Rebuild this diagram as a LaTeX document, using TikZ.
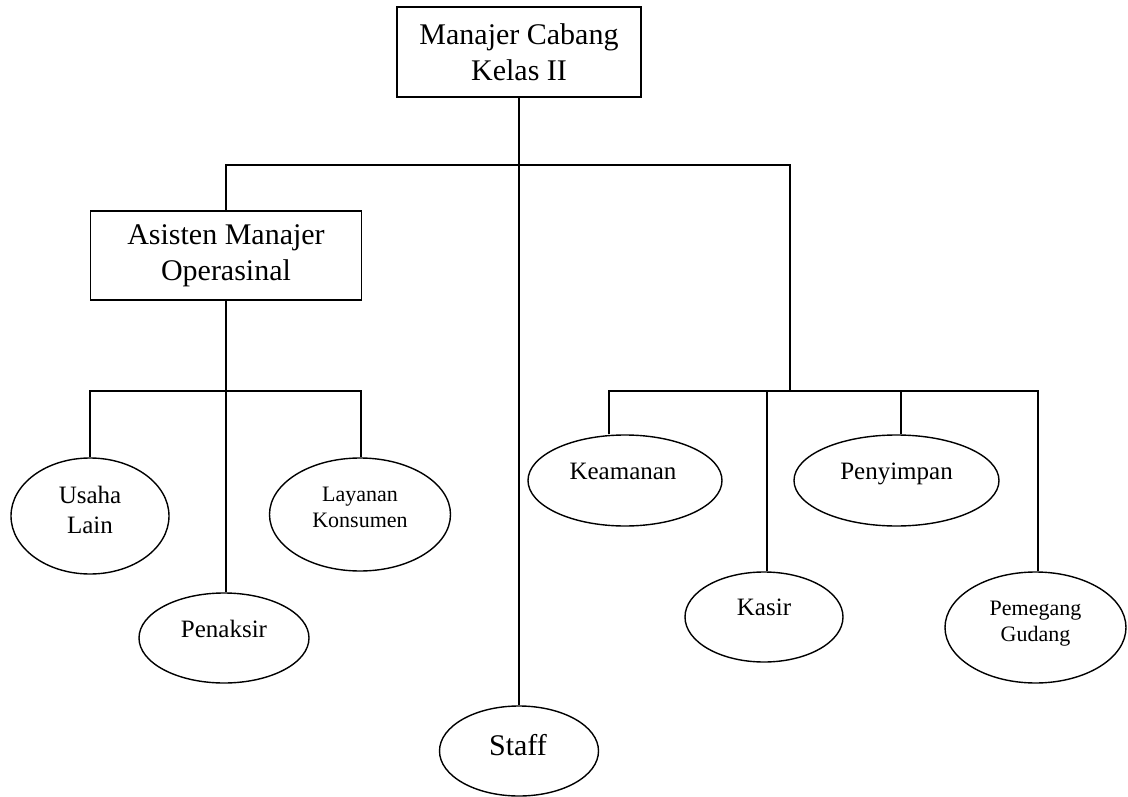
\documentclass[tikz,border=0pt]{standalone}
\usepackage{fontspec}
\setmainfont{Liberation Serif}
\usetikzlibrary{shapes.geometric}

\tikzset{
  unit/.style={rectangle, draw, inner sep=0pt, align=center,
    font=\fontsize{30}{36}\selectfont},
  staffoval/.style={ellipse, draw, inner sep=0pt},
  lbl/.style={inner sep=0pt, align=center, font=\fontsize{25}{30}\selectfont},
  lblsmall/.style={inner sep=0pt, align=center, font=\fontsize{22}{26.5}\selectfont},
  lblbig/.style={inner sep=0pt, align=center, font=\fontsize{30}{36}\selectfont},
  link/.style={line width=1.4pt},
}

\begin{document}
\begin{tikzpicture}[x=1pt, y=-1pt, line width=1.4pt]
\useasboundingbox (0,0) rectangle (1128,797);

% management boxes
\node[unit, minimum width=244pt, minimum height=90pt] (mcb) at (519,52)
  {Manajer Cabang\\Kelas II};
\node[unit, minimum width=271pt, minimum height=89pt] (amo) at (226,255.5)
  {Asisten Manajer\\Operasinal};

% staff ovals (drawn empty, labels placed separately)
\node[staffoval, minimum width=158pt, minimum height=116pt] (usaha)    at (90,516) {};
\node[staffoval, minimum width=181pt, minimum height=113pt] (layanan)  at (360,514.5) {};
\node[staffoval, minimum width=170pt, minimum height=90pt]  (penaksir) at (224,638) {};
\node[staffoval, minimum width=159pt, minimum height=90pt]  (staff)    at (519,751) {};
\node[staffoval, minimum width=194pt, minimum height=91pt]  (keamanan) at (625,480.5) {};
\node[staffoval, minimum width=205pt, minimum height=91pt]  (penyimpan) at (896.5,480.5) {};
\node[staffoval, minimum width=158pt, minimum height=90pt]  (kasir)    at (764,617) {};
\node[staffoval, minimum width=181pt, minimum height=111pt] (pemegang) at (1035.5,627.5) {};

% labels
\node[lbl, anchor=center] (usaha-t) at (90,510) {Usaha\\Lain};
\node[lblsmall, anchor=center] (layanan-t) at (360,507.5) {Layanan\\Konsumen};
\node[lbl, anchor=base] (penaksir-t) at (224,637) {Penaksir};
\node[lblbig, anchor=base] (staff-t) at (518,755) {Staff};
\node[lbl, anchor=base] (keamanan-t) at (623,479) {Keamanan};
\node[lbl, anchor=base] (penyimpan-t) at (896.5,479) {Penyimpan};
\node[lbl, anchor=base] (kasir-t) at (764,615) {Kasir};
\node[lblsmall, anchor=center] (pemegang-t) at (1035.5,623.5) {Pemegang\\Gudang};

% bus points
\coordinate (lt) at (226,165);
\coordinate (rt) at (790,165);
\coordinate (rv) at (790,391);
\coordinate (l1) at (90,391);
\coordinate (l2) at (361,391);
\coordinate (r1) at (609,391);
\coordinate (r2) at (767,391);
\coordinate (r3) at (901,391);
\coordinate (r4) at (1038,391);

% connectors
\draw[link] (mcb.south) -- (staff.north);
\draw[link] (amo.north) -- (lt) -- (rt) -- (rv);
\draw[link] (amo.south) -- (amo.south |- penaksir.north);
\draw[link] (l1 |- usaha.north) -- (l1) -- (l2) -- (l2 |- layanan.north);
\draw[link] (r1 |- keamanan.north) -- (r1) -- (r4) -- (r4 |- pemegang.north);
\draw[link] (r2) -- (r2 |- kasir.north);
\draw[link] (r3) -- (r3 |- penyimpan.north);
\end{tikzpicture}
\end{document}
